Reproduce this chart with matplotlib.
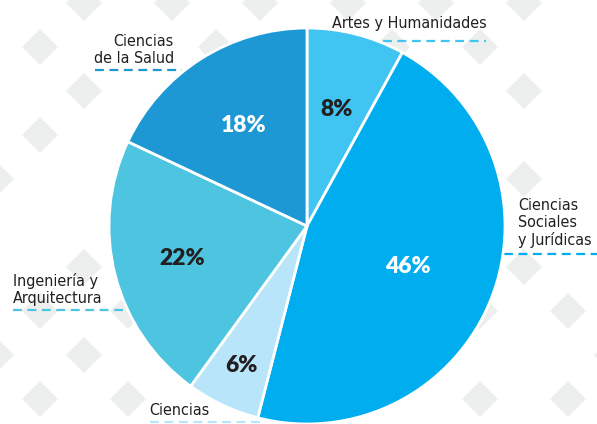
import matplotlib
matplotlib.use("Agg")
import numpy as np
import matplotlib.pyplot as plt
from matplotlib import font_manager
from matplotlib.patches import RegularPolygon

# data
areas = ["Artes y Humanidades", "Ciencias Sociales y Jurídicas", "Ciencias",
         "Ingeniería y Arquitectura", "Ciencias de la Salud"]
area_labels = ["Artes y Humanidades", "Ciencias\nSociales\ny Jurídicas", "Ciencias",
               "Ingeniería y\nArquitectura", "Ciencias\nde la Salud"]
shares = [8, 46, 6, 22, 18]

# style
slice_colors = ["#40C4F2", "#00AEEF", "#B9E5FA", "#4DC4E0", "#1E98D5"]
pct_colors = ["#231F20", "white", "#231F20", "#231F20", "white"]
pct_radius = [0.61, 0.55, 0.78, 0.65, 0.60]
dark = "#231F20"

W, H = 597, 424
cx, cy, R = 307, 226, 198

# pick a narrow font for the category labels if one is installed
fonts = font_manager.fontManager.ttflist
names = {f.name for f in fonts}
if "Liberation Sans Narrow" in names:
    lab_font = dict(family=["Liberation Sans Narrow", "DejaVu Sans"], fontsize=12.5)
elif any(f.name == "DejaVu Sans" and f.stretch == "condensed" for f in fonts):
    lab_font = dict(family=["DejaVu Sans"], fontstretch="condensed", fontsize=11.5)
else:
    lab_font = dict(family=["Roboto", "DejaVu Sans"], fontsize=11.5)

fig = plt.figure(figsize=(W / 100, H / 100), dpi=100)
fig.patch.set_facecolor("white")

# background layer (pixel coords, y down)
bg = fig.add_axes([0, 0, 1, 1], zorder=0)
bg.set_xlim(0, W)
bg.set_ylim(H, 0)
bg.axis("off")

# faint diamond pattern
cells = [(-1, 3), (0, 0), (0, 2), (1, -1), (1, 1), (3, -1), (4, 0), (5, -1), (7, -1),
         (8, 0), (9, -1), (10, 0), (11, -1), (11, 1), (11, 3), (11, 5), (12, 6), (10, 6),
         (1, 5), (2, 6), (0, 6), (-1, 7), (1, 7), (0, 8), (2, 8), (10, 8), (12, 8), (13, 7)]
for i, j in cells:
    bg.add_patch(RegularPolygon((40 + 44 * i, 47 + 44 * j), 4, radius=18,
                                facecolor="#EDEEEE", edgecolor="none"))

# dashed leader lines (under the pie)
dash = dict(linestyle=(0, (4, 2.5)), linewidth=1.6)
bg.plot([383, 486], [41, 41], color=slice_colors[0], **dash)
bg.plot([504, 597], [254, 254], color=slice_colors[1], **dash)
bg.plot([150, 260], [422, 422], color=slice_colors[2], **dash)
bg.plot([13, 130], [310, 310], color=slice_colors[3], **dash)
bg.plot([95, 182], [70, 70], color=slice_colors[4], **dash)

# pie
ax = fig.add_axes([(cx - R) / W, (H - cy - R) / H, 2 * R / W, 2 * R / H], zorder=1)
wedges, _ = ax.pie(shares, colors=slice_colors, startangle=90, counterclock=False,
                   wedgeprops=dict(edgecolor="white", linewidth=2))
ax.set_xlim(-1, 1)
ax.set_ylim(-1, 1)
ax.set_aspect("equal")
ax.axis("off")

for w, s, c, r in zip(wedges, shares, pct_colors, pct_radius):
    mid = np.deg2rad((w.theta1 + w.theta2) / 2)
    ax.text(r * np.cos(mid), r * np.sin(mid), f"{s}%", ha="center", va="center",
            color=c, fontsize=16.5, fontweight="heavy", family=["Lato", "DejaVu Sans"])

# category labels
ov = fig.add_axes([0, 0, 1, 1], zorder=2)
ov.set_xlim(0, W)
ov.set_ylim(H, 0)
ov.axis("off")
ov.patch.set_alpha(0)

lab = dict(color=dark, linespacing=1.15, **lab_font)
ov.text(409, 28, area_labels[0], ha="center", va="baseline", **lab)
ov.text(518, 245, area_labels[1], ha="left", va="baseline", **lab)
ov.text(149, 415, area_labels[2], ha="left", va="baseline", **lab)
ov.text(13, 303, area_labels[3], ha="left", va="baseline", **lab)
ov.text(174, 63, area_labels[4], ha="right", va="baseline", **lab)

fig.savefig("out.png", dpi=100)
